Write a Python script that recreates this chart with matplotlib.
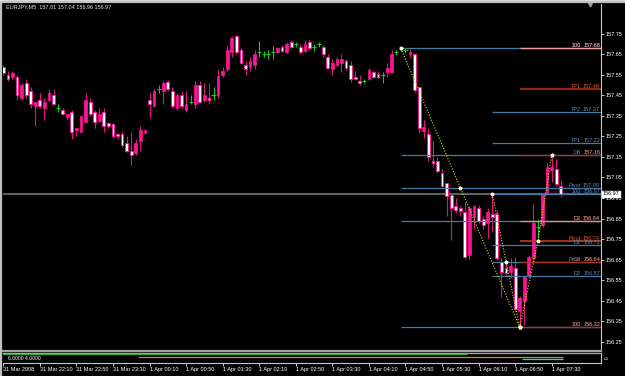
import matplotlib
matplotlib.use("Agg")
import matplotlib.pyplot as plt
import matplotlib.transforms as mtransforms
from matplotlib.lines import Line2D
import numpy as np

plt.rcParams['font.family'] = ['Liberation Sans', 'DejaVu Sans']

# EURJPY M5, bars from 31 Mar 2008 21:30 to 1 Apr 2008 07:40
opens = [157.59, 157.55, 157.54, 157.54, 157.44, 157.51, 157.47, 157.40, 157.43, 157.39,
         157.43, 157.45, 157.39, 157.38, 157.345, 157.37, 157.28, 157.27, 157.32, 157.42,
         157.37, 157.325, 157.37, 157.315, 157.31, 157.26, 157.26, 157.22, 157.18, 157.17,
         157.23, 157.265, 157.43, 157.40, 157.48, 157.47, 157.515, 157.47, 157.39, 157.45,
         157.38, 157.42, 157.41, 157.50, 157.43, 157.44, 157.45, 157.45, 157.55, 157.58,
         157.66, 157.74, 157.67, 157.60, 157.59, 157.60, 157.66, 157.65, 157.65, 157.66,
         157.66, 157.685, 157.66, 157.71, 157.70, 157.685, 157.665, 157.71, 157.685, 157.70,
         157.685, 157.64, 157.58, 157.60, 157.61, 157.62, 157.60, 157.54, 157.52, 157.52,
         157.53, 157.565, 157.555, 157.55, 157.565, 157.565, 157.66, 157.675, 157.67, 157.65,
         157.65, 157.49, 157.275, 157.26, 157.13, 157.13, 157.07, 157.025, 156.965, 156.91,
         156.90, 156.88, 156.67, 156.857, 156.90, 156.85, 156.83, 156.87, 156.87, 156.64,
         156.61, 156.59, 156.61, 156.40, 156.45, 156.575, 156.657, 156.81, 156.82, 156.975,
         157.085, 157.09, 157.01]
highs = [157.60, 157.57, 157.57, 157.55, 157.51, 157.53, 157.49, 157.42, 157.46, 157.44,
         157.48, 157.48, 157.41, 157.39, 157.36, 157.38, 157.29, 157.35, 157.46, 157.44,
         157.38, 157.39, 157.39, 157.32, 157.315, 157.265, 157.275, 157.25, 157.27, 157.24,
         157.30, 157.28, 157.46, 157.48, 157.50, 157.52, 157.525, 157.49, 157.46, 157.47,
         157.47, 157.45, 157.52, 157.52, 157.51, 157.51, 157.49, 157.58, 157.59, 157.69,
         157.74, 157.745, 157.68, 157.62, 157.64, 157.67, 157.715, 157.665, 157.67, 157.69,
         157.685, 157.695, 157.71, 157.72, 157.71, 157.70, 157.72, 157.72, 157.70, 157.71,
         157.695, 157.65, 157.63, 157.64, 157.65, 157.63, 157.62, 157.57, 157.55, 157.53,
         157.585, 157.57, 157.57, 157.565, 157.61, 157.67, 157.67, 157.68, 157.68, 157.68,
         157.65, 157.49, 157.33, 157.29, 157.23, 157.15, 157.09, 157.025, 156.975, 156.95,
         156.91, 156.93, 156.91, 156.916, 156.915, 156.86, 156.90, 156.975, 156.89, 156.657,
         156.65, 156.657, 156.66, 156.47, 156.575, 156.67, 156.92, 156.85, 156.975, 157.12,
         157.16, 157.14, 157.04]
lows = [157.55, 157.52, 157.53, 157.43, 157.43, 157.44, 157.39, 157.30, 157.39, 157.33,
        157.42, 157.405, 157.37, 157.355, 157.33, 157.24, 157.25, 157.27, 157.32, 157.35,
        157.29, 157.32, 157.27, 157.29, 157.245, 157.24, 157.20, 157.175, 157.11, 157.16,
        157.18, 157.265, 157.34, 157.395, 157.46, 157.41, 157.47, 157.39, 157.38, 157.39,
        157.37, 157.41, 157.39, 157.42, 157.42, 157.41, 157.43, 157.44, 157.54, 157.57,
        157.64, 157.65, 157.61, 157.55, 157.57, 157.58, 157.64, 157.64, 157.63, 157.63,
        157.655, 157.66, 157.655, 157.68, 157.685, 157.65, 157.66, 157.67, 157.665, 157.685,
        157.64, 157.58, 157.55, 157.595, 157.565, 157.575, 157.515, 157.525, 157.50, 157.51,
        157.525, 157.535, 157.535, 157.51, 157.54, 157.56, 157.645, 157.665, 157.655, 157.64,
        157.465, 157.27, 157.245, 157.13, 157.10, 157.07, 157.00, 156.86, 156.745, 156.875,
        156.86, 156.655, 156.655, 156.80, 156.83, 156.80, 156.755, 156.79, 156.65, 156.467,
        156.57, 156.56, 156.40, 156.32, 156.33, 156.565, 156.65, 156.755, 156.81, 156.965,
        157.03, 157.01, 156.955]
closes = [157.56, 157.53, 157.56, 157.45, 157.50, 157.45, 157.41, 157.42, 157.40, 157.42,
          157.46, 157.41, 157.39, 157.36, 157.36, 157.27, 157.29, 157.35, 157.43, 157.36,
          157.32, 157.36, 157.30, 157.30, 157.25, 157.25, 157.21, 157.18, 157.16, 157.22,
          157.28, 157.28, 157.41, 157.47, 157.48, 157.51, 157.48, 157.40, 157.45, 157.40,
          157.41, 157.42, 157.50, 157.42, 157.45, 157.43, 157.45, 157.545, 157.57, 157.67,
          157.73, 157.66, 157.61, 157.58, 157.62, 157.65, 157.66, 157.65, 157.65, 157.66,
          157.68, 157.665, 157.70, 157.685, 157.70, 157.66, 157.70, 157.68, 157.685, 157.70,
          157.65, 157.585, 157.61, 157.63, 157.63, 157.585, 157.53, 157.53, 157.51, 157.52,
          157.575, 157.54, 157.54, 157.55, 157.585, 157.65, 157.66, 157.675, 157.67, 157.66,
          157.475, 157.29, 157.295, 157.15, 157.12, 157.08, 157.01, 156.96, 156.90, 156.89,
          156.885, 156.66, 156.90, 156.91, 156.84, 156.82, 156.88, 156.857, 156.657, 156.59,
          156.585, 156.62, 156.41, 156.46, 156.565, 156.66, 156.83, 156.81, 156.965, 157.10,
          157.10, 157.02, 156.97]

price_ticks = [157.75, 157.65, 157.55, 157.45, 157.35, 157.25, 157.15, 157.05,
               156.95, 156.85, 156.75, 156.65, 156.55, 156.45, 156.35, 156.25]
time_tick_bars = [0, 8, 16, 24, 32, 40, 48, 56, 64, 72, 80, 88, 96, 104, 112, 120]
time_labels = ["31 Mar 2008", "31 Mar 22:10", "31 Mar 22:50", "31 Mar 23:30",
               "1 Apr 00:10", "1 Apr 00:50", "1 Apr 01:30", "1 Apr 02:10",
               "1 Apr 02:50", "1 Apr 03:30", "1 Apr 04:10", "1 Apr 04:50",
               "1 Apr 05:30", "1 Apr 06:10", "1 Apr 06:50", "1 Apr 07:30"]
bid = 156.97
title = "EURJPY,M5  157.01 157.04 156.96 156.97"

# fibo groups: start bar, levels, names
fa_start = 87
fa_levels = [157.68, 157.16, 157.00, 156.84, 156.32]
fa_names = ["100", "D8", "Pivot", "D2", "100"]
fb_start = 107
fb_levels = [157.37, 157.22, 156.97, 156.72, 156.64, 156.57]
fb_names = ["TP2", "TP1", "100", "D2", "Pivot", "D2"]
fc_start = 113
fc_levels = [157.68, 157.48, 157.16, 156.84, 156.74, 156.64, 156.32]
fc_names = ["100", "TP1", "", "D2", "Pivot", "D2", "100"]

# zigzag legs (bar, price)
zz1_bars = [87, 100, 113]
zz1_prices = [157.68, 157.00, 156.32]
zz2_bars = [107, 110, 113]
zz2_prices = [156.97, 156.64, 156.32]
zz3_bars = [113, 117, 120]
zz3_prices = [156.32, 156.74, 157.16]

# sub-window indicator: (first bar, last bar, value)
ind_green = (0, 101, 9.0)
ind_gold = (30, 122, 6.0)
ind_cyan = (114, 122, 4.0)
ind_text = "6.0000 4.0000"

# styles
BLUE_LINE = '#4679a5'
BLUE_TEXT = '#5c8fc0'
RED_TEXT = '#e8562c'
fc_line_colors = ['#f2a3a0', '#8e2a10', '#a8341c', '#f58a74', '#b03a1a', '#a8341c', '#a8341c']
fc_line_widths = [1.0, 1.6, 1.0, 1.0, 1.3, 1.0, 1.0]
fc_text_colors = ['#f08a84', RED_TEXT, RED_TEXT, RED_TEXT, RED_TEXT, RED_TEXT, RED_TEXT]
BULL = '#ff1493'
WICK = '#e0157f'
DOJI = '#19c819'
FS = 4.0

W, H = 625, 376
fig = plt.figure(figsize=(W / 100, H / 100), dpi=100, facecolor='black')

x_left_px, x_right_px = 2.85, 601
top_px, bot_px = 4, 351
ax = fig.add_axes([x_left_px / W, 1 - bot_px / H, (x_right_px - x_left_px) / W, (bot_px - top_px) / H])
ax.set_facecolor('black')
xlim = (-0.1, 130.79)
ax.set_xlim(*xlim)
ax.set_ylim(156.204, 157.896)

# bid line
ax.axhline(bid, color='#6a6a6a', lw=1.3, zorder=1)

# candles
n = len(opens)
x = np.arange(n)
o = np.array(opens); h = np.array(highs); l = np.array(lows); c = np.array(closes)
doji = np.abs(c - o) < 0.004
ax.vlines(x[~doji], l[~doji], h[~doji], color=WICK, lw=0.8, zorder=3)
up = (c > o) & ~doji
dn = (c < o) & ~doji
ax.bar(x[up], (c - o)[up], bottom=o[up], width=0.6, color=BULL, edgecolor=BULL, lw=0.5, zorder=4)
ax.bar(x[dn], (o - c)[dn], bottom=c[dn], width=0.6, color='white', edgecolor=BULL, lw=0.7, zorder=4)
ax.vlines(x[doji], l[doji], h[doji], color=DOJI, lw=0.8, zorder=4)
ax.hlines(c[doji], x[doji] - 0.45, x[doji] + 0.45, color=DOJI, lw=0.8, zorder=4)

# fibo lines
trans = mtransforms.blended_transform_factory(ax.transAxes, ax.transData)
name_x = (581 - x_left_px) / (x_right_px - x_left_px)
val_x = (600 - x_left_px) / (x_right_px - x_left_px)

def level_label(lvl, name, color):
    if name:
        ax.text(name_x, lvl, name, transform=trans, color=color, fontsize=FS,
                ha='right', va='bottom', zorder=7)
    ax.text(val_x, lvl, f"{lvl:.2f}", transform=trans, color=color, fontsize=FS,
            ha='right', va='bottom', zorder=7)

for lvl, name in zip(fa_levels, fa_names):
    ax.hlines(lvl, fa_start, xlim[1], color=BLUE_LINE, lw=0.9, zorder=5)
    level_label(lvl, name, BLUE_TEXT)
for lvl, name in zip(fb_levels, fb_names):
    ax.hlines(lvl, fb_start, xlim[1], color=BLUE_LINE, lw=0.9, zorder=5)
    level_label(lvl, name, BLUE_TEXT)
for lvl, name, lc, lw, tc in zip(fc_levels, fc_names, fc_line_colors, fc_line_widths, fc_text_colors):
    ax.hlines(lvl, fc_start, xlim[1], color=lc, lw=lw, zorder=5.5)
    level_label(lvl, name, tc)

# zigzag
for bx, py in [(zz1_bars, zz1_prices), (zz2_bars, zz2_prices), (zz3_bars, zz3_prices)]:
    ax.plot(bx, py, color='#d2dc00', lw=0.8, ls=(0, (1, 1.5)), zorder=6)
    ax.plot(bx, py, ls='none', marker='*', ms=2.6, color='#fff6d0', mec='#fff6d0', zorder=8)

# price axis
ax.yaxis.tick_right()
ax.set_yticks(price_ticks)
ax.set_yticklabels([f"{p:.2f}" for p in price_ticks])
ax.tick_params(axis='y', colors='#c8c8c8', labelcolor='white', labelsize=FS, length=2.2, width=0.7, pad=1)
ax.set_xticks([])
for s in ['top', 'left']:
    ax.spines[s].set_visible(False)
ax.spines['right'].set_color('#c8c8c8')
ax.spines['right'].set_linewidth(0.8)
ax.spines['bottom'].set_color('#a0a0a0')
ax.spines['bottom'].set_linewidth(1.6)

ax.text(1.003, bid, f"{bid:.2f}", transform=trans, color='black', fontsize=FS, ha='left', va='center',
        bbox=dict(boxstyle='square,pad=0.15', fc='white', ec='white'), zorder=9, clip_on=False)
ax.plot([0.982], [1.0], transform=ax.transAxes, marker='v', ms=3.5, color='#9a9a9a', clip_on=False)

# indicator sub window
ax2 = fig.add_axes([x_left_px / W, 1 - 363 / H, (x_right_px - x_left_px) / W, 10 / H])
ax2.set_facecolor('black')
ax2.set_xlim(*xlim)
ax2.set_ylim(0, 10)
for (b0, b1, v), col in [(ind_green, '#1fb21f'), (ind_gold, '#c8901a'), (ind_cyan, '#20d8e8')]:
    ax2.hlines(v, b0 - 0.5, b1 + 0.5, color=col, lw=0.9)
ax2.text(0.008, 4.5, ind_text, transform=mtransforms.blended_transform_factory(ax2.transAxes, ax2.transData),
         color='white', fontsize=3.6, ha='left', va='center')
ax2.set_yticks([])
ax2.set_xticks(time_tick_bars)
ax2.set_xticklabels(time_labels, ha='left')
ax2.tick_params(axis='x', colors='#c8c8c8', labelcolor='white', labelsize=FS, length=2.2, width=0.7, pad=0.8)
ax2.spines['left'].set_visible(False)
ax2.spines['top'].set_color('#a0a0a0')
ax2.spines['top'].set_linewidth(1.0)
ax2.spines['bottom'].set_color('#c8c8c8')
ax2.spines['bottom'].set_linewidth(0.8)
ax2.spines['right'].set_color('#c8c8c8')
ax2.spines['right'].set_linewidth(0.8)
ax2.text(1.006, 0.5, "0", transform=ax2.transAxes, color='white', fontsize=3.4, ha='left', va='center',
         rotation=90)

fig.text(6 / W, 1 - 4 / H, title, color='#e6e6e6', fontsize=FS, ha='left', va='top')

# window frame
fig.add_artist(Line2D([1.5 / W, 1.5 / W], [0, 1], color='#c0c0c0', lw=1.6))
fig.add_artist(Line2D([0, 1], [1 - 1.5 / H, 1 - 1.5 / H], color='#c0c0c0', lw=1.6))
fig.add_artist(Line2D([0, 1], [1 - 0.3 / H, 1 - 0.3 / H], color='#ffffff', lw=0.6))

fig.savefig('out.png', dpi=100, facecolor='black')
